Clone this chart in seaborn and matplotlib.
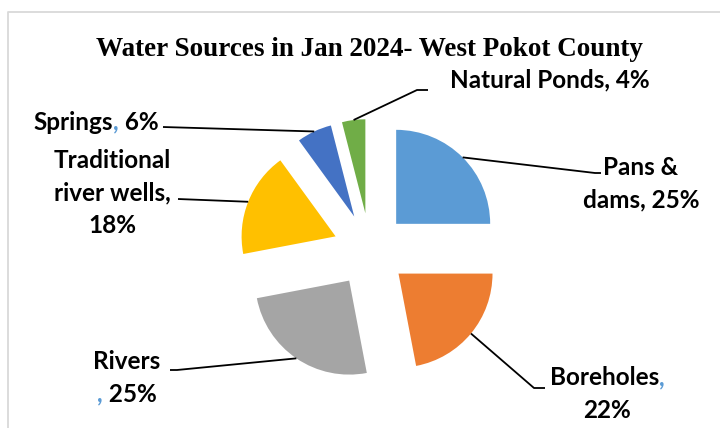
import matplotlib
matplotlib.use("Agg")
import matplotlib.pyplot as plt
import seaborn as sns
import numpy as np
from matplotlib.offsetbox import TextArea, HPacker, VPacker, AnnotationBbox

# ---- data ----
categories = ["Pans & dams", "Boreholes", "Rivers", "Traditional river wells", "Springs", "Natural Ponds"]
shares = [25, 22, 25, 18, 6, 4]
colors = ["#5B9BD5", "#ED7D31", "#A5A5A5", "#FFC000", "#4472C4", "#70AD47"]
title = "Water Sources in Jan 2024- West Pokot County"

K = "#000000"
B = "#5B9BD5"
label_parts = [
    [[("Pans &", K)], [("dams, 25%", K)]],
    [[("Boreholes", K), (",", B)], [("22%", K)]],
    [[("Rivers", K)], [(",", B), (" 25%", K)]],
    [[("Traditional", K)], [("river wells,", K)], [("18%", K)]],
    [[("Springs", K), (",", B), (" 6%", K)]],
    [[("Natural Ponds, 4%", K)]],
]
# label layout (pixels, y downward): text centre, leader elbow points
label_pos = [(641, 184), (607, 394), (127, 378), (112, 193), (96, 122), (550, 80)]
leader_pts = [
    [(595, 173), (601, 173)],
    [(534, 388), (545, 388)],
    [(177, 370), (170, 370)],
    [(178, 199)],
    [(163, 127)],
    [(417, 90), (428, 90)],
]

sns.set_theme(style="white")
plt.rcParams["font.family"] = ["Lato", "DejaVu Sans"]

W, H = 720, 428
fig = plt.figure(figsize=(W / 100, H / 100), dpi=100)

# pie axes: unit radius = 94 px, centre at (370, 250) px
R = 94.0
cxp, cyp = 370, 250
ax = fig.add_axes([0, 0, 1, 1])
wedges, _ = ax.pie(shares, colors=colors, startangle=90, counterclock=False,
                   explode=[37 / R] * len(shares), radius=1, center=(0, 0),
                   wedgeprops=dict(linewidth=0))
ax.set_aspect("auto")
ax.set_xlim(-cxp / R, (W - cxp) / R)
ax.set_ylim(-(H - cyp) / R, cyp / R)
ax.axis("off")

# overlay axes in pixel coordinates (y downward)
ann = fig.add_axes([0, 0, 1, 1], facecolor="none")
ann.set_xlim(0, W)
ann.set_ylim(H, 0)
ann.axis("off")

# chart-area border
ann.plot([8, 8, W], [H, 12, 12], color="#D9D9D9", lw=1.3, clip_on=False)

inv = ann.transData.inverted()
for w, parts, pos, pts in zip(wedges, label_parts, label_pos, leader_pts):
    tm = np.deg2rad(0.5 * (w.theta1 + w.theta2))
    cx, cy = w.center
    start = (cx + w.r * np.cos(tm), cy + w.r * np.sin(tm))
    sp = inv.transform(ax.transData.transform(start))
    xs = [sp[0]] + [p[0] for p in pts]
    ys = [sp[1]] + [p[1] for p in pts]
    ann.plot(xs, ys, color="black", lw=1.3, solid_capstyle="butt")

    lines = []
    for line in parts:
        frags = [TextArea(t, textprops=dict(color=c, fontsize=17.5, fontweight="bold",
                                             family=["Lato", "DejaVu Sans"]))
                 for t, c in line]
        lines.append(HPacker(children=frags, sep=0, pad=0, align="baseline"))
    vp = VPacker(children=lines, sep=6.5, pad=0, align="center")
    ab = AnnotationBbox(vp, pos, xycoords=ann.transData, frameon=False,
                        box_alignment=(0.5, 0.5), pad=0, annotation_clip=False)
    ann.add_artist(ab)

fig.text(369 / W, 1 - 49 / H, title, ha="center", va="center", color="black",
         family=["Liberation Serif", "DejaVu Serif"], fontweight="bold", fontsize=19.5)

fig.savefig("out.png", dpi=100)
